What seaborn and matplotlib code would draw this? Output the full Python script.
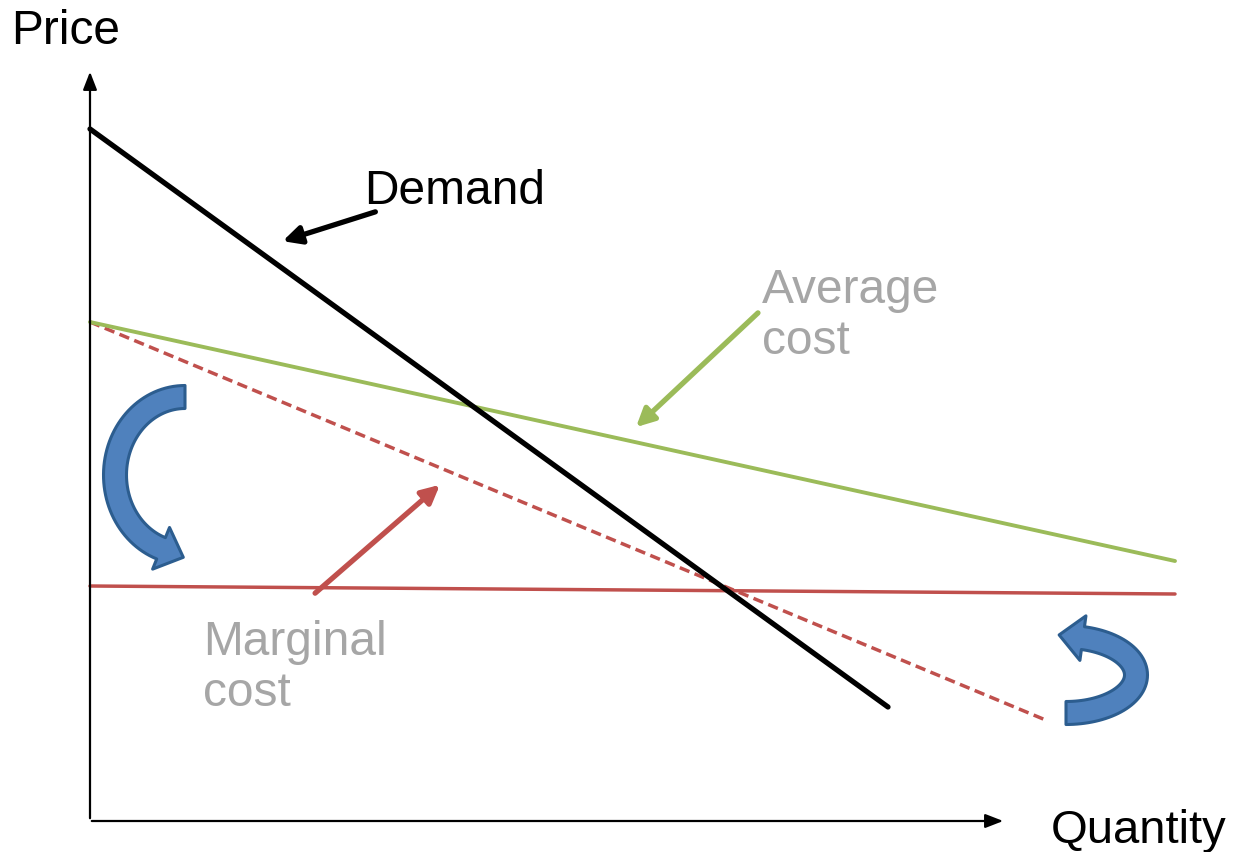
import matplotlib
matplotlib.use("Agg")
import matplotlib.pyplot as plt
import seaborn as sns
import pandas as pd
import numpy as np
from matplotlib.patches import Polygon

# curve end points (in pixel-like units of the drawing, y grows downward)
demand_x = [90, 888]
demand_y = [130, 708]
avg_cost_x = [90, 1175]
avg_cost_y = [323, 562]
mc_old_x = [90, 1048]
mc_old_y = [323, 722]
mc_new_x = [90, 1175]
mc_new_y = [587, 595]

labels = ["Demand", "Average\ncost", "Marginal\ncost"]

sns.set_theme(style="white")
plt.rcParams['font.family'] = ['Liberation Sans', 'DejaVu Sans']

fig = plt.figure(figsize=(12.33, 8.53), dpi=100)
ax = fig.add_axes([0, 0, 1, 1])
ax.set_xlim(0, 1233)
ax.set_ylim(853, 0)
ax.axis("off")


def line(xs, ys, **kw):
    df = pd.DataFrame({"x": xs, "y": ys})
    sns.lineplot(data=df, x="x", y="y", ax=ax, sort=False, **kw)


def curved_arrow(cx, cy, rx, ry, t0, t1, width=23, head_w=45, head_l=24):
    # thick elliptical arc with a triangular head at the t1 end
    t = np.radians(np.linspace(t0, t1, 60))
    px = cx + rx * np.cos(t)
    py = cy - ry * np.sin(t)
    dx = -rx * np.sin(t) * np.sign(t1 - t0)
    dy = -ry * np.cos(t) * np.sign(t1 - t0)
    n = np.hypot(dx, dy)
    tx, ty = dx / n, dy / n
    nx, ny = -ty, tx
    left = np.column_stack([px + nx * width / 2, py + ny * width / 2])
    right = np.column_stack([px - nx * width / 2, py - ny * width / 2])
    ex, ey = px[-1], py[-1]
    head = np.array([
        [ex + nx[-1] * head_w / 2, ey + ny[-1] * head_w / 2],
        [ex + tx[-1] * head_l, ey + ty[-1] * head_l],
        [ex - nx[-1] * head_w / 2, ey - ny[-1] * head_w / 2],
    ])
    pts = np.vstack([left, head, right[::-1]])
    ax.add_patch(Polygon(pts, closed=True, facecolor="#4f81bd",
                         edgecolor="#2c5d8f", lw=2.2, joinstyle="round", zorder=5))


line(mc_old_x, mc_old_y, color="#c0504d", lw=2.5, linestyle=(0, (3, 1.6)))
line(mc_new_x, mc_new_y, color="#c0504d", lw=2.5)
line(avg_cost_x, avg_cost_y, color="#9bbb59", lw=2.8)
line(demand_x, demand_y, color="black", lw=3.8)

# axes with arrow heads
ax.annotate("", xy=(90, 70), xytext=(90, 822),
            arrowprops=dict(arrowstyle="-|>,head_length=0.9,head_width=0.35", color="black", lw=1.6))
ax.annotate("", xy=(1006, 822), xytext=(89, 822),
            arrowprops=dict(arrowstyle="-|>,head_length=0.9,head_width=0.35", color="black", lw=1.6))
ax.text(11, 31, "Price", fontsize=34.5, va="center", ha="left", color="black")
ax.text(1051, 831, "Quantity", fontsize=34, va="center", ha="left", color="black")

# labels with pointer arrows
ax.text(364, 191, labels[0], fontsize=34.5, va="center", ha="left", color="black")
ax.annotate("", xy=(280, 243), xytext=(378, 212),
            arrowprops=dict(arrowstyle="-|>,head_length=0.9,head_width=0.45", color="black", lw=3.8))
ax.text(762, 316, labels[1], fontsize=34.5, va="center", ha="left", color="#a6a6a6", linespacing=1.15)
ax.annotate("", xy=(634, 430), xytext=(760, 312),
            arrowprops=dict(arrowstyle="-|>,head_length=0.9,head_width=0.45", color="#9bbb59", lw=3.8))
ax.text(203, 668, labels[2], fontsize=34.5, va="center", ha="left", color="#a6a6a6", linespacing=1.15)
ax.annotate("", xy=(442, 484), xytext=(313, 596),
            arrowprops=dict(arrowstyle="-|>,head_length=0.9,head_width=0.45", color="#c0504d", lw=3.8))

# curved blue shift arrows
curved_arrow(185, 476, 70, 78, 90, 250)
curved_arrow(1066, 676, 70, 38, -90, 76)

fig.savefig("out.png", dpi=100)
